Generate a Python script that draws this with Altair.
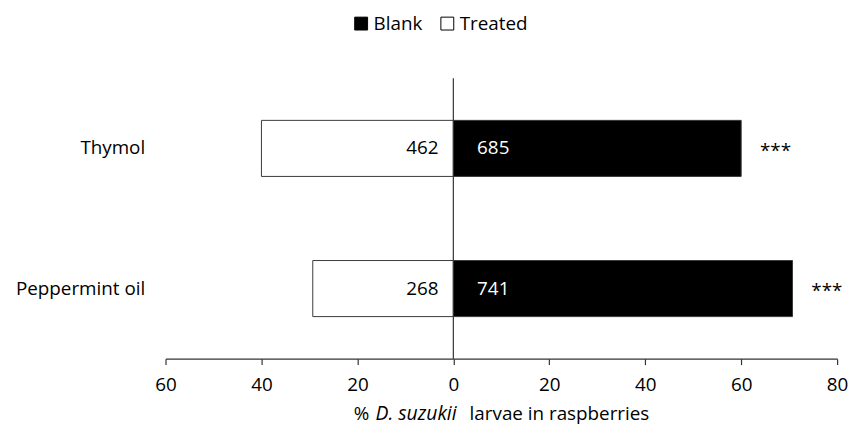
import altair as alt
import pandas as pd

treatments = ["Thymol", "Peppermint oil"]
blank_pct = [60.0, 70.7]
treated_pct = [40.0, 29.3]
blank_n = [685, 741]
treated_n = [462, 268]
sig = ["***", "***"]
tick_vals = [-60, -40, -20, 0, 20, 40, 60, 80]

rows = []
for i, t in enumerate(treatments):
    rows.append({"treatment": t, "group": "Blank", "value": blank_pct[i], "n": blank_n[i], "sig": sig[i]})
    rows.append({"treatment": t, "group": "Treated", "value": -treated_pct[i], "n": treated_n[i], "sig": ""})
df = pd.DataFrame(rows)

FONT = "Open Sans"
FS = 19
W, H = 678, 283

xscale = alt.Scale(domain=[-60, 80], nice=False, zero=True)
yscale = alt.Scale(domain=treatments, paddingInner=0.6, paddingOuter=0.3)

base = alt.Chart(df)

bars = base.mark_bar(stroke="#3a3a3a", strokeWidth=1).encode(
    x=alt.X("value:Q", scale=xscale,
            axis=alt.Axis(values=tick_vals, labelExpr="abs(datum.value)", title=None,
                          grid=False, domainColor="#333", tickColor="#333", tickSize=6,
                          labelFontSize=FS, labelFont=FONT, labelColor="#000",
                          labelFlush=False, labelPadding=11, domainWidth=1.2, tickWidth=1.2)),
    y=alt.Y("treatment:N", scale=yscale, sort=treatments,
            axis=alt.Axis(title=None, domain=False, ticks=False, labelFontSize=FS,
                          labelFont=FONT, labelColor="#000", labelPadding=21)),
    color=alt.Color("group:N",
                    scale=alt.Scale(domain=["Blank", "Treated"], range=["#000000", "#ffffff"]),
                    legend=alt.Legend(orient="none", legendX=188, legendY=-65,
                                      direction="horizontal", title=None,
                                      symbolType="square", symbolSize=169,
                                      symbolStrokeColor="#000", symbolStrokeWidth=1,
                                      labelFontSize=FS, labelFont=FONT, labelColor="#000",
                                      labelOffset=3, columnPadding=15)),
)

zero_rule = alt.Chart(pd.DataFrame({"z": [0]})).mark_rule(color="#333", strokeWidth=1.2).encode(
    x=alt.X("z:Q", scale=xscale)
)

treated_text = base.transform_filter(alt.datum.group == "Treated").mark_text(
    align="right", baseline="middle", dx=-15, fontSize=FS, font=FONT, color="#000"
).encode(x=alt.datum(0), y=alt.Y("treatment:N", sort=treatments), text="n:Q")

blank_text = base.transform_filter(alt.datum.group == "Blank").mark_text(
    align="left", baseline="middle", dx=24, fontSize=FS, font=FONT, color="#fff"
).encode(x=alt.datum(0), y=alt.Y("treatment:N", sort=treatments), text="n:Q")

sig_text = base.transform_filter(alt.datum.group == "Blank").mark_text(
    align="left", baseline="alphabetic", dx=19, dy=9, fontSize=FS, font=FONT, color="#000"
).encode(x="value:Q", y=alt.Y("treatment:N", sort=treatments), text="sig:N")

title_y = H + 56
t1 = alt.Chart(pd.DataFrame({"t": ["%"]})).mark_text(
    align="left", baseline="middle", fontSize=FS, font=FONT, color="#000"
).encode(x=alt.value(190), y=alt.value(title_y), text="t:N")
t2 = alt.Chart(pd.DataFrame({"t": ["D. suzukii"]})).mark_text(
    align="left", baseline="middle", fontSize=19.5, font=FONT, fontStyle="italic", color="#000"
).encode(x=alt.value(212), y=alt.value(title_y), text="t:N")
t3 = alt.Chart(pd.DataFrame({"t": ["larvae in raspberries"]})).mark_text(
    align="left", baseline="middle", fontSize=FS, font=FONT, color="#000"
).encode(x=alt.value(307), y=alt.value(title_y), text="t:N")

chart = alt.layer(bars, zero_rule, treated_text, blank_text, sig_text, t1, t2, t3).properties(
    width=W, height=H,
    autosize=alt.AutoSizeParams(type="none"),
    padding={"left": 159, "top": 69, "right": 13, "bottom": 65},
).configure_view(stroke=None).resolve_scale(y="shared")

chart.save("out.html", embed_options={"renderer": "svg", "actions": False})
